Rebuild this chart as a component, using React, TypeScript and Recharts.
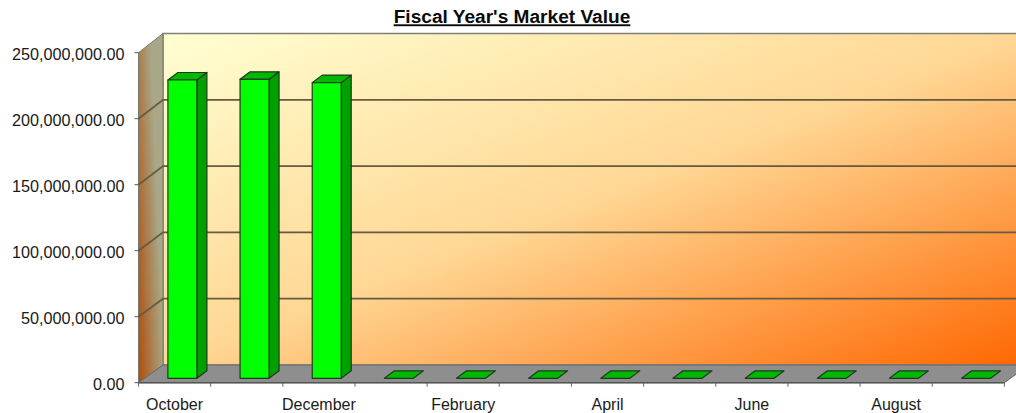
import React from 'react';
import { BarChart, Bar, XAxis, YAxis, CartesianGrid } from 'recharts';

const months = ['October', 'November', 'December', 'January', 'February', 'March', 'April', 'May', 'June', 'July', 'August', 'September'];
const marketValue = [226000000, 226500000, 224000000, 0, 0, 0, 0, 0, 0, 0, 0, 0];
const valueTicks = [0, 50000000, 100000000, 150000000, 200000000, 250000000];

const data = months.map((name, i) => ({ name, value: marketValue[i] }));

const W = 1016;
const H = 413;
const LEFT = 138.5;
const RIGHT = 1004.4;
const TOP = 52.7;
const BOTTOM = 382.7;
const DX = 24.5; // depth of the fake 3d box
const WALL_TOP = 33.5;
const WALL_BOTTOM = 365;
const FONT = '"Liberation Sans", Arial, sans-serif';

// sits behind the chart's transparent svg
const Walls = () => (
  <svg width={W} height={H} style={{ position: 'absolute', left: 0, top: 0 }}>
    <defs>
      <linearGradient id="wall" x1="0" y1="0" x2="1" y2="1">
        <stop offset="0" stopColor="#FFFFD2" />
        <stop offset="0.5" stopColor="#FFD794" />
        <stop offset="1" stopColor="#FF6600" />
      </linearGradient>
      <linearGradient id="side" x1="0" y1="1" x2="1" y2="0.4">
        <stop offset="0" stopColor="#B04C08" />
        <stop offset="0.8" stopColor="#A8A888" />
      </linearGradient>
    </defs>
    <rect x={LEFT + DX} y={WALL_TOP} width={RIGHT - LEFT} height={WALL_BOTTOM - WALL_TOP} fill="url(#wall)" stroke="#80807a" strokeWidth={1.5} />
    <polygon
      points={`${LEFT},${TOP} ${LEFT + DX},${WALL_TOP} ${LEFT + DX},${WALL_BOTTOM} ${LEFT},${BOTTOM}`}
      fill="url(#side)"
      stroke="#77776c"
    />
    <polygon
      points={`${LEFT},${BOTTOM} ${RIGHT},${BOTTOM} ${RIGHT + DX},${WALL_BOTTOM} ${LEFT + DX},${WALL_BOTTOM}`}
      fill="#8E8E8E"
      stroke="#666"
    />
    <text x={512} y={23.3} textAnchor="middle" fontFamily={FONT} fontSize={19.1} fontWeight="bold" textDecoration="underline" fill="#0a0a0a">
      Fiscal Year's Market Value
    </text>
  </svg>
);

// grid line runs up the side wall, then along the back wall
const gridLine = (p: any) => {
  const { y1, key } = p;
  if (y1 < TOP + 1 || y1 > BOTTOM - 1) return <g key={key} />;
  const back = WALL_BOTTOM - ((BOTTOM - y1) * (WALL_BOTTOM - WALL_TOP)) / (BOTTOM - TOP);
  return (
    <path
      key={key}
      d={`M${LEFT},${y1} L${LEFT + DX},${back} L${W},${back}`}
      fill="none"
      stroke="#665a40"
      strokeWidth={1.8}
    />
  );
};

const Bar3d = (p: any) => {
  const { x, y, width, height } = p;
  const bx = x + 7.4;
  const by = y - 4.4;
  const d = 10;
  const t = 7.5;
  const bottom = by + height;
  return (
    <g stroke="#1f3a1f" strokeWidth={1.2} strokeLinejoin="round">
      {height > 0 && (
        <polygon points={`${bx + width},${by} ${bx + width + d},${by - t} ${bx + width + d},${bottom - t} ${bx + width},${bottom}`} fill="#00A000" />
      )}
      <polygon points={`${bx},${by} ${bx + d},${by - t} ${bx + width + d},${by - t} ${bx + width},${by}`} fill="#00B800" />
      {height > 0 && <rect x={bx} y={by} width={width} height={height} fill="#00FF00" />}
    </g>
  );
};

const halfBand = (RIGHT - LEFT) / months.length / 2;

const MonthTick = (p: any) => {
  const { x, y, payload, index } = p;
  return (
    <g>
      <line x1={x - halfBand} x2={x - halfBand} y1={BOTTOM} y2={BOTTOM + 4} stroke="#666" />
      {index === months.length - 1 && <line x1={x + halfBand} x2={x + halfBand} y1={BOTTOM} y2={BOTTOM + 4} stroke="#666" />}
      {index % 2 === 0 && (
        <text x={x} y={y + 19} textAnchor="middle" fontFamily={FONT} fontSize={16} fill="#1a1a1a">
          {payload.value}
        </text>
      )}
    </g>
  );
};

const ValueTick = (p: any) => {
  const { x, y, payload } = p;
  return (
    <text x={x} y={y + 6.8} textAnchor="end" fontFamily={FONT} fontSize={16.2} fill="#1a1a1a">
      {payload.value.toLocaleString('en-US', { minimumFractionDigits: 2, maximumFractionDigits: 2 })}
    </text>
  );
};

const App = () => (
  <div style={{ position: 'absolute', left: 0, top: 0, width: W, height: H, overflow: 'hidden', background: '#fff' }}>
    <Walls />
    <div style={{ position: 'absolute', left: 0, top: 0 }}>
      <BarChart
        width={W}
        height={H}
        data={data}
        margin={{ top: TOP, right: W - RIGHT, bottom: 0, left: 0 }}
        barSize={29}
      >
        <CartesianGrid vertical={false} horizontal={gridLine} />
        <XAxis
          dataKey="name"
          interval={0}
          height={H - BOTTOM}
          tick={<MonthTick />}
          tickLine={false}
          axisLine={{ stroke: '#555', strokeWidth: 1.5 }}
        />
        <YAxis
          width={LEFT}
          domain={[0, 250000000]}
          ticks={valueTicks}
          interval={0}
          tickSize={4}
          tickMargin={10}
          axisLine={false}
          tickLine={{ stroke: '#555' }}
          tick={<ValueTick />}
        />
        <Bar dataKey="value" isAnimationActive={false} shape={<Bar3d />} />
      </BarChart>
    </div>
  </div>
);

export default App;
